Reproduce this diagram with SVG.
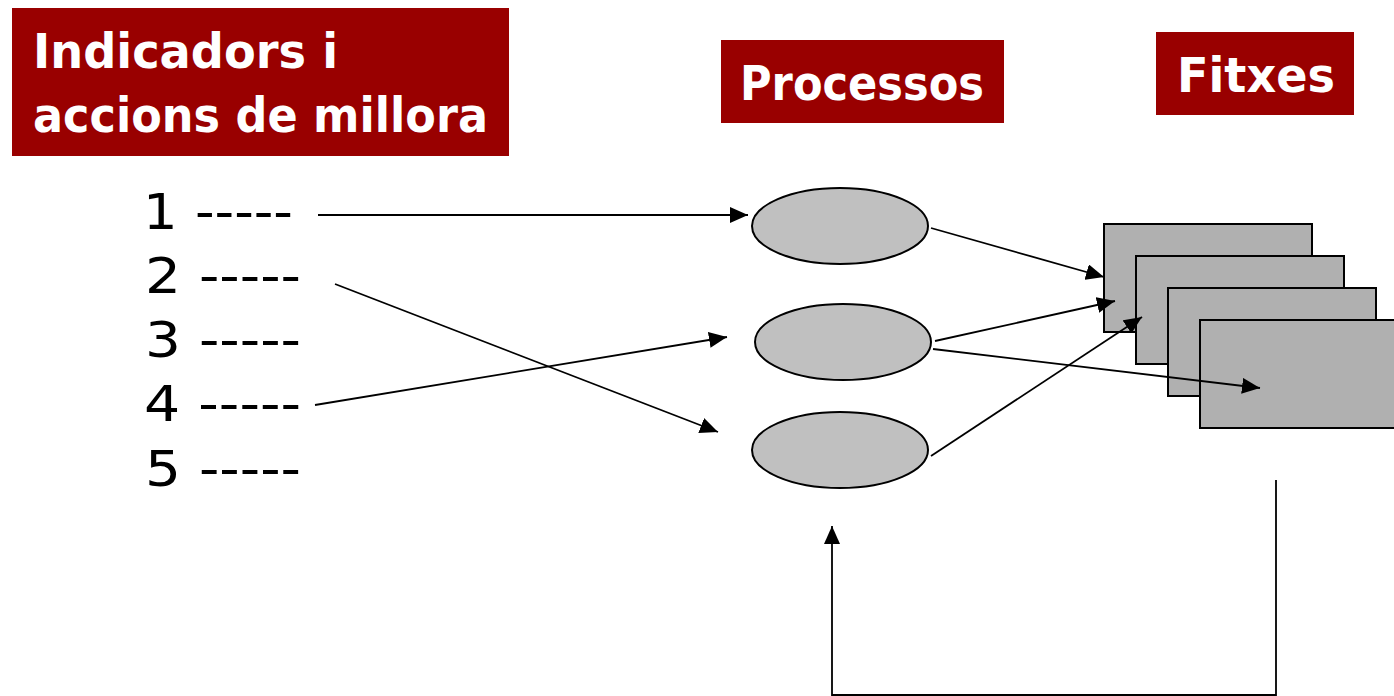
<svg xmlns="http://www.w3.org/2000/svg" width="1394" height="696" viewBox="0 0 1394 696">
<style>
.hdr{fill:#990000}
.ht{font-family:"DejaVu Sans","Liberation Sans",sans-serif;font-weight:bold;fill:#ffffff;font-size:48px}
.lt{font-family:"DejaVu Sans","Liberation Sans",sans-serif;fill:#000;font-size:50px}
.ell{fill:#c0c0c0;stroke:#000;stroke-width:2}
.card{fill:#b0b0b0;stroke:#000;stroke-width:2}
.con{stroke:#000;stroke-width:1.8;fill:none}
</style>
<defs>
<marker id="arrB" viewBox="0 0 18 16" refX="18" refY="8" markerWidth="18" markerHeight="16" markerUnits="userSpaceOnUse" orient="auto">
<path d="M0,0 L18,8 L0,16 Z" fill="#000"/>
</marker>
</defs>
<g id="hdr-indicadors">
<rect class="hdr" x="12" y="8" width="497" height="148"/>
<text class="ht" x="33" y="68" textLength="305" lengthAdjust="spacingAndGlyphs">Indicadors i</text>
<text class="ht" x="33" y="132" textLength="455" lengthAdjust="spacingAndGlyphs">accions de millora</text>
</g>
<g id="hdr-processos">
<rect class="hdr" x="721" y="40" width="283" height="83"/>
<text class="ht" x="740" y="100" textLength="244" lengthAdjust="spacingAndGlyphs">Processos</text>
</g>
<g id="hdr-fitxes">
<rect class="hdr" x="1156" y="32" width="198" height="83"/>
<text class="ht" x="1177" y="92" textLength="158" lengthAdjust="spacingAndGlyphs">Fitxes</text>
</g>
<g id="list">
<text class="lt" x="143" y="229" textLength="150" lengthAdjust="spacingAndGlyphs">1 -----</text>
<text class="lt" x="145" y="293" textLength="156" lengthAdjust="spacingAndGlyphs">2 -----</text>
<text class="lt" x="145" y="357" textLength="156" lengthAdjust="spacingAndGlyphs">3 -----</text>
<text class="lt" x="144" y="421" textLength="157" lengthAdjust="spacingAndGlyphs">4 -----</text>
<text class="lt" x="145" y="486" textLength="156" lengthAdjust="spacingAndGlyphs">5 -----</text>
</g>
<g id="proc1"><ellipse class="ell" cx="840" cy="226" rx="88" ry="38"/></g>
<g id="proc2"><ellipse class="ell" cx="843" cy="342" rx="88" ry="38"/></g>
<g id="proc3"><ellipse class="ell" cx="840" cy="450" rx="88" ry="38"/></g>
<g id="fitxa1"><rect class="card" x="1104" y="224" width="208" height="108"/></g>
<g id="fitxa2"><rect class="card" x="1136" y="256" width="208" height="108"/></g>
<g id="fitxa3"><rect class="card" x="1168" y="288" width="208" height="108"/></g>
<g id="fitxa4"><rect class="card" x="1200" y="320" width="208" height="108"/></g>
<g id="connectors">
<line class="con" x1="318" y1="215" x2="748" y2="215" marker-end="url(#arrB)"/>
<line class="con" x1="335" y1="284" x2="718" y2="432" marker-end="url(#arrB)"/>
<line class="con" x1="315" y1="405" x2="727" y2="337" marker-end="url(#arrB)"/>
<line class="con" x1="931" y1="228" x2="1104" y2="277" marker-end="url(#arrB)"/>
<line class="con" x1="935" y1="341" x2="1115" y2="301" marker-end="url(#arrB)"/>
<line class="con" x1="933" y1="349" x2="1260" y2="388" marker-end="url(#arrB)"/>
<line class="con" x1="931" y1="456" x2="1142" y2="317" marker-end="url(#arrB)"/>
<polyline class="con" points="1276,480 1276,695 832,695 832,526" marker-end="url(#arrB)"/>
</g>
</svg>
